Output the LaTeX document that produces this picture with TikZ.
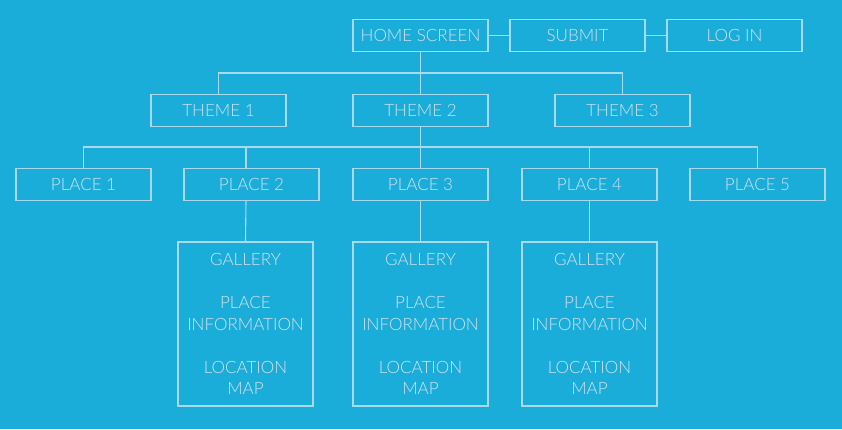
\documentclass[tikz,border=0pt]{standalone}
\usepackage{fontspec}
\setmainfont{Lato}[UprightFont=* Light]
\definecolor{bg}{RGB}{27,173,218}
\definecolor{ln}{RGB}{170,216,236}
\definecolor{tx}{RGB}{208,226,238}
\begin{document}
\begin{tikzpicture}[x=1pt,y=-1pt,
  box/.style={draw=ln,line width=1.1pt,minimum width=135pt,minimum height=32pt,inner sep=0pt,text=tx,font=\fontsize{17}{21.5}\selectfont},
  detail/.style={box,minimum height=164pt,align=center},
  conn/.style={draw=ln,line width=1.1pt}]
\fill[bg] (0,0) rectangle (842,429);
\useasboundingbox (0,0) rectangle (842,429);
\node[box] (home) at (420.5,35.5) {HOME SCREEN};
\node[box] (submit) at (577.5,35.5) {SUBMIT};
\node[box] (login) at (734.5,35.5) {LOG IN};
\node[box] (t1) at (218.5,110.5) {THEME 1};
\node[box] (t2) at (420.5,110.5) {THEME 2};
\node[box] (t3) at (622.5,110.5) {THEME 3};
\node[box] (p1) at (83.5,184.5) {PLACE 1};
\node[box] (p2) at (251.5,184.5) {PLACE 2};
\node[box] (p3) at (420.5,184.5) {PLACE 3};
\node[box] (p4) at (589.5,184.5) {PLACE 4};
\node[box] (p5) at (757.5,184.5) {PLACE 5};
\node[detail] (d2) at (245.5,324) {GALLERY\\[21.5pt]PLACE\\INFORMATION\\[21.5pt]LOCATION\\MAP};
\node[detail] (d3) at (420.5,324) {GALLERY\\[21.5pt]PLACE\\INFORMATION\\[21.5pt]LOCATION\\MAP};
\node[detail] (d4) at (589.5,324) {GALLERY\\[21.5pt]PLACE\\INFORMATION\\[21.5pt]LOCATION\\MAP};
\coordinate (h1) at (218.5,73);
\coordinate (h3) at (622.5,73);
\coordinate (g1) at (83.5,147);
\coordinate (g5) at (757.5,147);
\draw[conn] (home) -- (submit);
\draw[conn] (submit) -- (login);
\draw[conn] (home.south) -- (t2.north);
\draw[conn] (t1.north) -- (h1) -- (h3) -- (t3.north);
\draw[conn] (t2.south) -- (p3.north);
\draw[conn] (p1.north) -- (g1) -- (g5) -- (p5.north);
\draw[conn] (246,147) -- (246,168.5);
\draw[conn] (589.5,147) -- (p4.north);
\draw[conn] (246,200.5) -- (d2.north);
\draw[conn] (p3.south) -- (d3.north);
\draw[conn] (p4.south) -- (d4.north);
\end{tikzpicture}
\end{document}
